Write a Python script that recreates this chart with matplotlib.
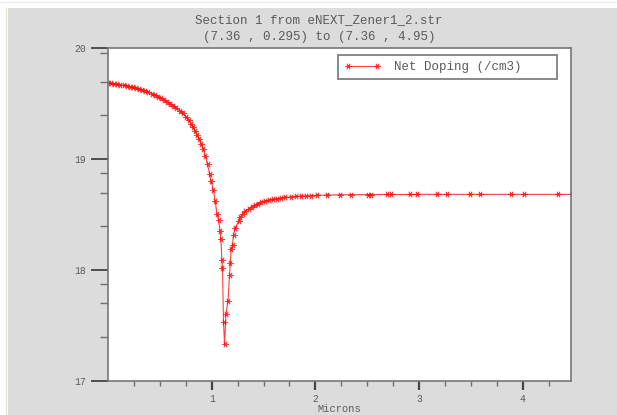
import matplotlib.pyplot as plt
from matplotlib.patches import Rectangle
from matplotlib.lines import Line2D

# position along the cut line (microns) and log10 of net doping
microns = [0.00, 0.03, 0.06, 0.09, 0.12, 0.15, 0.18, 0.21, 0.24, 0.27,
           0.30, 0.33, 0.36, 0.39, 0.42, 0.45, 0.48, 0.51, 0.54, 0.57,
           0.60, 0.63, 0.66, 0.69, 0.72, 0.75, 0.78, 0.80, 0.82, 0.84,
           0.86, 0.88, 0.90, 0.92, 0.94, 0.96, 0.98, 0.995, 1.017, 1.034,
           1.050, 1.066, 1.082, 1.088, 1.099, 1.104, 1.114, 1.124, 1.137, 1.157,
           1.172, 1.179, 1.188, 1.201, 1.211, 1.227, 1.259, 1.275, 1.30, 1.324,
           1.355, 1.388, 1.42, 1.45, 1.48, 1.51, 1.55, 1.59, 1.63, 1.67,
           1.71, 1.76, 1.81, 1.86, 1.91, 1.96, 2.016, 2.113, 2.235, 2.348,
           2.506, 2.538, 2.686, 2.725, 2.910, 2.983, 3.176, 3.273, 3.491, 3.587,
           3.884, 4.013, 4.341, 4.473]
doping = [19.690, 19.686, 19.681, 19.676, 19.671, 19.666, 19.661, 19.655, 19.647, 19.639,
          19.632, 19.626, 19.619, 19.605, 19.592, 19.577, 19.565, 19.551, 19.534, 19.516,
          19.499, 19.480, 19.461, 19.439, 19.415, 19.385, 19.350, 19.320, 19.290, 19.255,
          19.218, 19.180, 19.137, 19.090, 19.025, 18.955, 18.870, 18.800, 18.720, 18.620,
          18.510, 18.450, 18.350, 18.280, 18.090, 18.020, 17.530, 17.330, 17.600, 17.720,
          17.960, 18.060, 18.190, 18.230, 18.320, 18.380, 18.440, 18.480, 18.510, 18.530,
          18.550, 18.570, 18.585, 18.600, 18.610, 18.620, 18.630, 18.638, 18.645, 18.650,
          18.655, 18.660, 18.664, 18.667, 18.670, 18.672, 18.675, 18.677, 18.679, 18.680,
          18.681, 18.681, 18.682, 18.682, 18.682, 18.683, 18.683, 18.683, 18.683, 18.683,
          18.683, 18.683, 18.683, 18.683]

x_major = [1, 2, 3, 4]
x_minor = [0.25, 0.5, 0.75, 1.25, 1.5, 1.75, 2.25, 2.5, 2.75,
           3.25, 3.5, 3.75, 4.25]
y_major = [17, 18, 19, 20]
y_minor = [17.398, 17.699, 17.875, 18.398, 18.699, 18.875, 19.398, 19.699, 19.96]

mono = 'Liberation Mono'
txt = '#5a5a5a'
grey = '#6e6e6e'

fig = plt.figure(figsize=(6.17, 4.15), dpi=100, facecolor='white')
fig.patches.append(Rectangle((8 / 617, 0), 1, 1 - 8 / 415, transform=fig.transFigure,
                             facecolor='#dcdcdc', edgecolor='none', zorder=-10))
fig.lines.append(Line2D([6 / 617, 6 / 617], [0, 1 - 8 / 415], transform=fig.transFigure,
                        color='#e4e8d4', lw=1, zorder=-10))
fig.lines.append(Line2D([0, 1], [1 - 2 / 415, 1 - 2 / 415], transform=fig.transFigure,
                        color='#ececec', lw=1, zorder=-10))

ax = fig.add_axes([108 / 617, 1 - 381 / 415, 463 / 617, 332.7 / 415])
ax.set_zorder(2)
ax.set_facecolor('white')
ax.plot(microns, doping, color='red', lw=0.8, marker=(6, 2, 90), ms=4.5, mew=0.6,
        alpha=0.75, label='Net Doping (/cm3)')

ax.set_xlim(0, 4.465)
ax.set_ylim(17, 20)
ax.set_xticks(x_major)
ax.set_xticks(x_minor, minor=True)
ax.set_yticks(y_major)
ax.set_yticks(y_minor, minor=True)
ax.set_xticklabels([str(v) for v in x_major], family=mono, fontsize=7, color=txt)
ax.set_yticklabels([str(v) for v in y_major], family=mono, fontsize=7, color=txt)
ax.tick_params(axis='y', which='major', length=12, width=1.3, color='#444444', pad=4)
ax.tick_params(axis='y', which='minor', length=6, width=1, color=grey)
ax.tick_params(axis='x', which='major', length=6.5, width=1.6, color='#444444', pad=3)
ax.tick_params(axis='x', which='minor', length=3.5, width=1, color=grey)
for s in ax.spines.values():
    s.set_color('#777777')
    s.set_linewidth(1.2)

ax.set_xlabel('Microns', family=mono, fontsize=7.5, color=txt, labelpad=0)
fig.text(319 / 617, 1 - 20 / 415, 'Section 1 from eNEXT_Zener1_2.str',
         family=mono, fontsize=9, color=txt, ha='center', va='center')
fig.text(319 / 617, 1 - 37 / 415, '(7.36 , 0.295) to (7.36 , 4.95)',
         family=mono, fontsize=9, color=txt, ha='center', va='center')

leg = ax.legend(loc='upper left', bbox_to_anchor=(230 / 463, 0.5, 219 / 463, 0.48),
                mode='expand', borderaxespad=0, numpoints=2,
                prop={'family': mono, 'size': 9}, fancybox=False, framealpha=1,
                edgecolor='#808080', handlelength=2.9, borderpad=0.5, handletextpad=1.1,
                labelcolor=txt)
leg.get_frame().set_linewidth(1.3)

fig.savefig('out.png', dpi=100, facecolor=fig.get_facecolor())
